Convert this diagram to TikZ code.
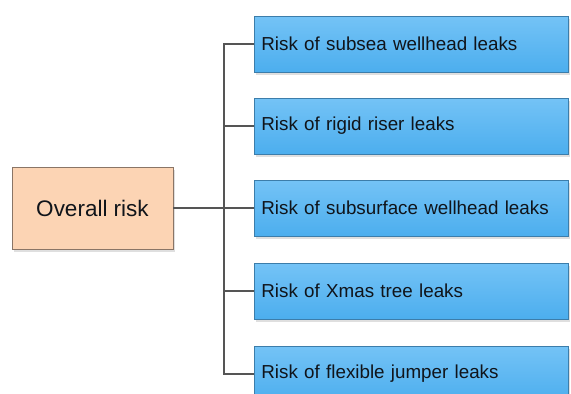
\documentclass[tikz,border=0pt]{standalone}
\usepackage{fontspec}
\setmainfont{Liberation Sans}
\usetikzlibrary{shadows}
\definecolor{bluetop}{HTML}{74C3F6}
\definecolor{bluebot}{HTML}{4CAEEE}
\definecolor{blueedge}{HTML}{3C7DAA}
\definecolor{peach}{HTML}{FCD4B4}
\definecolor{peachedge}{HTML}{8A7566}
\definecolor{linegrey}{HTML}{555555}
\definecolor{txt}{HTML}{10141A}
\tikzset{
  riskbox/.style={draw=blueedge, line width=0.8pt, top color=bluetop, bottom color=bluebot,
    minimum width=314pt, minimum height=56pt, text width=300pt, align=left,
    inner xsep=7pt, anchor=west, text=txt, font=\fontsize{18.8}{20}\selectfont,
    drop shadow={shadow xshift=1.5pt, shadow yshift=-2.5pt, opacity=0.25}},
  mainbox/.style={draw=peachedge, line width=0.8pt, fill=peach,
    minimum width=161pt, minimum height=82pt, text=txt,
    font=\fontsize{22.5}{24}\selectfont,
    drop shadow={shadow xshift=1.5pt, shadow yshift=-2.5pt, opacity=0.25}},
  conn/.style={draw=linegrey, line width=1.4pt}
}
\begin{document}
\begin{tikzpicture}[x=1pt,y=-1pt]
\useasboundingbox (0,0) rectangle (571,394);
\clip (0,0) rectangle (571,394);
\fill[white] (0,0) rectangle (571,394);
\node[mainbox] (ov) at (92.5,208) {Overall risk};
\node[riskbox] (b1) at (254,44) {Risk of subsea wellhead leaks};
\node[riskbox] (b2) at (254,126) {Risk of rigid riser leaks};
\node[riskbox] (b3) at (254,208) {Risk of subsurface wellhead leaks};
\node[riskbox] (b4) at (254,291) {Risk of Xmas tree leaks};
\node[riskbox] (b5) at (254,374) {Risk of flexible jumper leaks};
\coordinate (bus) at (224,0);
\draw[conn] (b1.west) -- (b1.west -| bus) -- (b5.west -| bus) -- (b5.west);
\draw[conn] (b2.west) -- (b2.west -| bus);
\draw[conn] (b4.west) -- (b4.west -| bus);
\draw[conn] (ov.east) -- (ov.east -| b3.west);
\end{tikzpicture}
\end{document}
